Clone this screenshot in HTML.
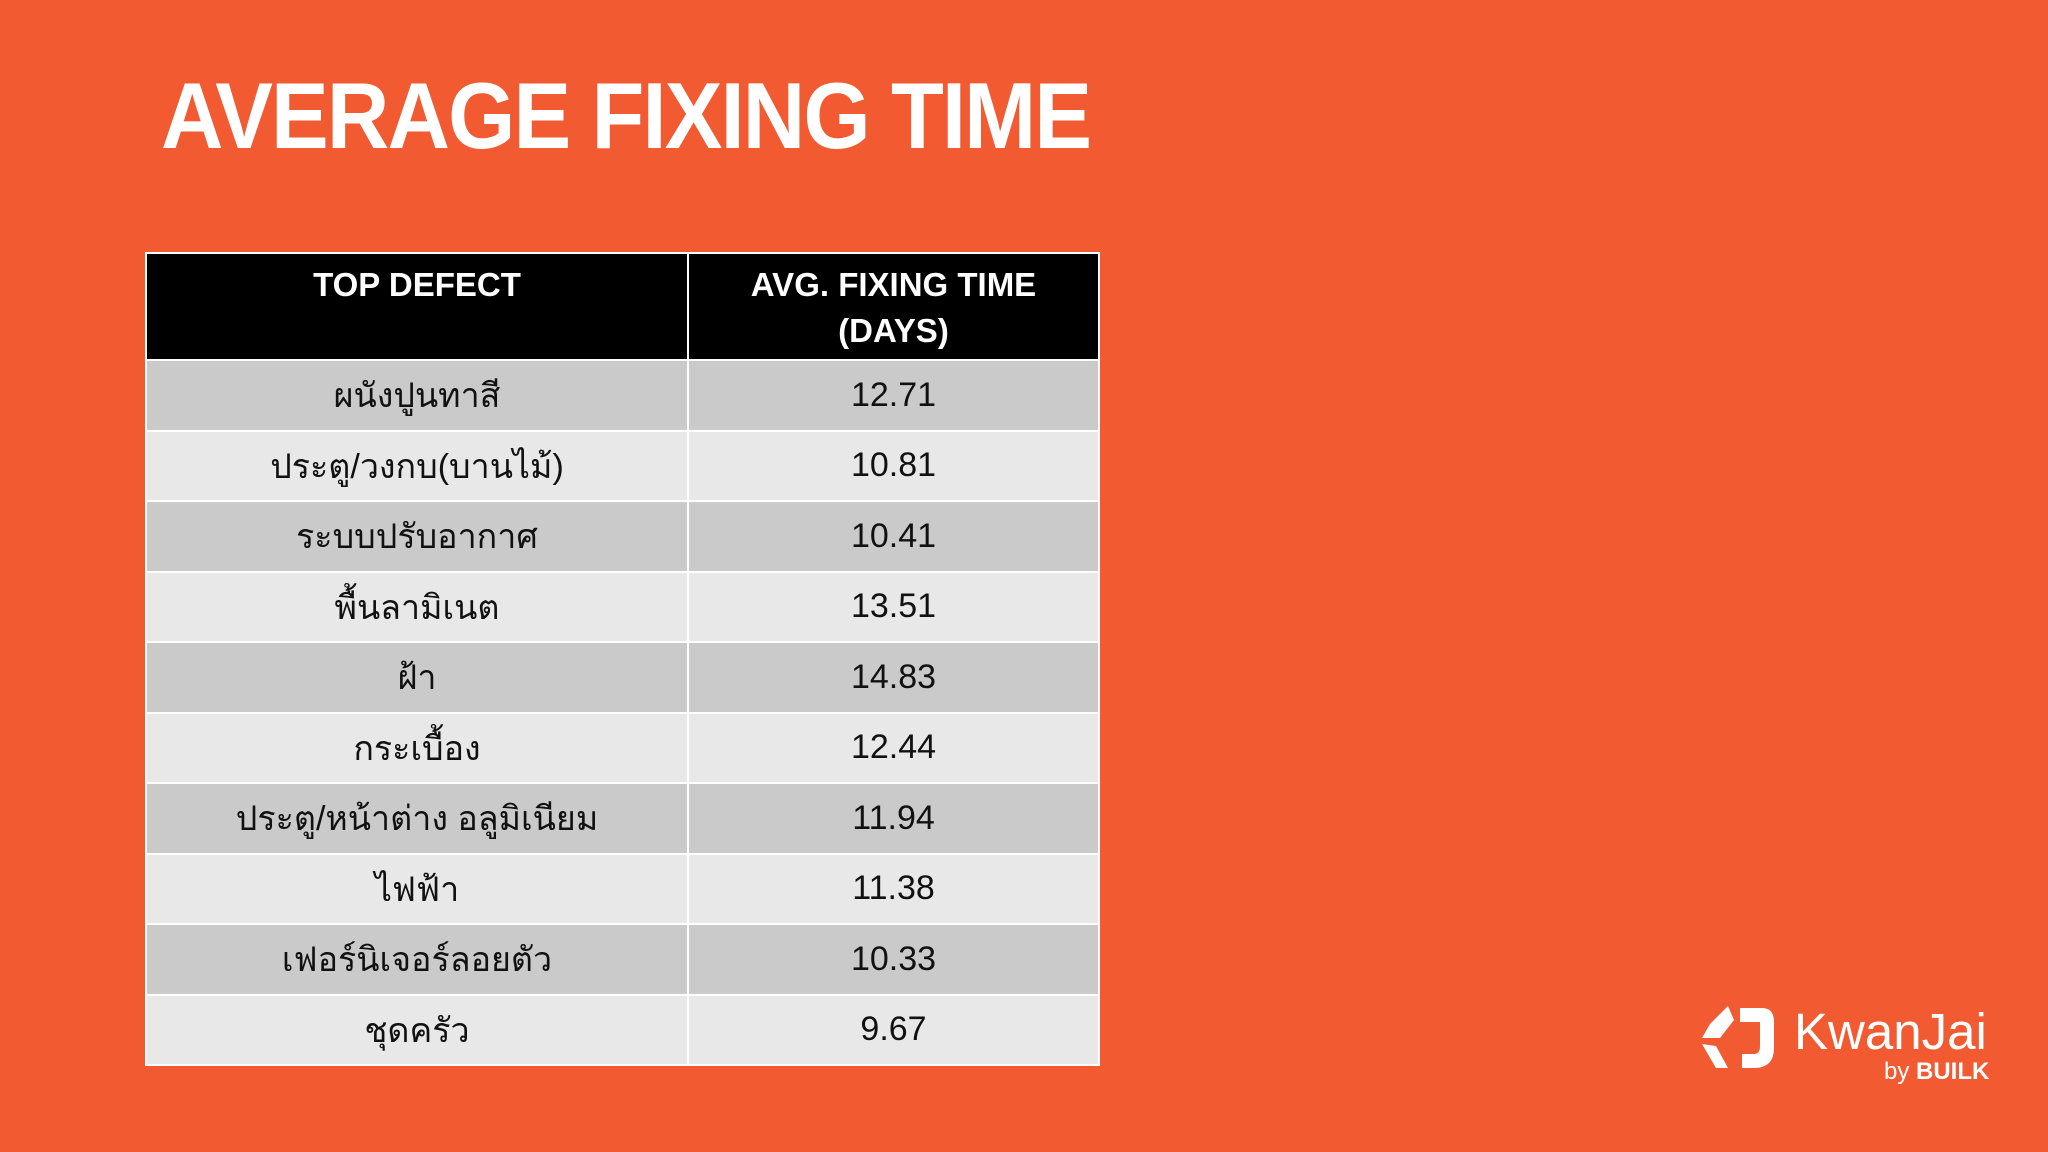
<!DOCTYPE html>
<html><head><meta charset="utf-8"><style>
body{margin:0;width:2048px;height:1152px;background:#F25A31;overflow:hidden;position:relative;font-family:"Liberation Sans","Noto Sans CJK SC",sans-serif}
#title{position:absolute;left:161px;top:62px;font-size:94px;font-weight:bold;color:#fff;letter-spacing:-2px;white-space:nowrap;transform:scaleX(0.92);transform-origin:left top}
table{position:absolute;left:145px;top:252px;width:955px;border-collapse:collapse;border:2px solid #fff}
td,th{border:2px solid #fff;text-align:center;padding:0}
th{background:#000;color:#fff;font-size:33px;font-weight:bold;height:107px;vertical-align:top;line-height:46px;padding-top:8px;box-sizing:border-box}
td{font-size:34px;color:#111;height:70.5px;box-sizing:border-box}
tr.d td{background:#CBCACB}tr.l td{background:#E9E8E9}
#logo{position:absolute;left:1698px;top:1000px;color:#fff}
</style></head><body>
<div id="title">AVERAGE FIXING TIME</div>
<table id="tbl">
<tr><th style="width:542px">TOP DEFECT</th><th>AVG. FIXING TIME<br>(DAYS)</th></tr>
</table>
<div id="logo">
<svg width="80" height="72" viewBox="0 0 80 72" style="position:absolute;left:0;top:2px"><path d="M30 4 L12 22 L4 36 L22 36 L36 18 Z M4 42 L18 66 L30 66 L18 44 Z" fill="#fff"/><path d="M42 6 L64 6 Q76 6 76 20 L76 46 Q76 66 56 66 L44 66 L44 52 L56 52 Q62 52 62 44 L62 20 L42 20 Z" fill="#fff"/></svg>
<div style="position:absolute;left:96px;top:2px;font-size:51px;white-space:nowrap">KwanJai</div>
<div style="position:absolute;left:186px;top:58px;font-size:24px;white-space:nowrap">by <b>BUILK</b></div>
</div>
<script>
const defects=["ผนังปูนทาสี","ประตู/วงกบ(บานไม้)","ระบบปรับอากาศ","พื้นลามิเนต","ฝ้า","กระเบื้อง","ประตู/หน้าต่าง อลูมิเนียม","ไฟฟ้า","เฟอร์นิเจอร์ลอยตัว","ชุดครัว"];
const times=["12.71","10.81","10.41","13.51","14.83","12.44","11.94","11.38","10.33","9.67"];
const t=document.getElementById('tbl');
defects.forEach((d,i)=>{
const tr=document.createElement('tr');tr.className=i%2?'l':'d';


const a=document.createElement('td');a.textContent=d;


const b=document.createElement('td');b.textContent=times[i];


tr.appendChild(a);tr.appendChild(b);t.appendChild(tr);
});
</script>
</body></html>
